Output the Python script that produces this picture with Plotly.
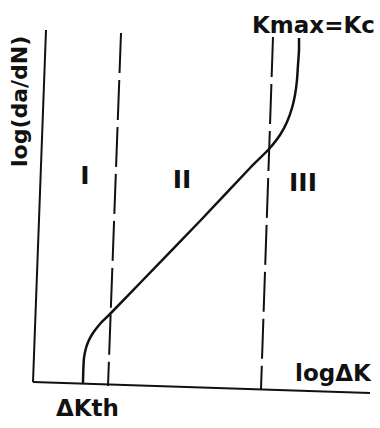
import plotly.graph_objects as go

# Schematic coordinates (x: log ΔK, y: log(da/dN)), in chart units
axis_x = [33, 370]
axis_x_y = [46, 35]
axis_y_x = [46, 33]
axis_y = [398, 46]

th_x = [121, 108]          # ΔKth dashed line
th_y = [395, 42]
kc_x = [273, 261]          # Kmax=Kc dashed line
kc_y = [391, 39]

curve_x = [83, 83.3, 84, 86, 89, 93, 100, 110, 142, 200, 250, 269, 280, 287, 292, 295, 297, 298, 299, 299]
curve_y = [45, 58, 70, 80, 88, 95, 104, 114, 147, 207, 260, 279, 293, 306, 320, 333, 348, 363, 378, 390]

region_labels = ["I", "II", "III"]
region_x = [85, 182, 303]
region_y = [250, 246, 243]

FONT = "DejaVu Sans"

fig = go.Figure()
line_style = dict(color="#111", width=2)
fig.add_trace(go.Scatter(x=axis_x, y=axis_x_y, mode="lines", line=line_style))
fig.add_trace(go.Scatter(x=axis_y_x, y=axis_y, mode="lines", line=line_style))
fig.add_trace(go.Scatter(x=th_x, y=th_y, mode="lines",
                         line=dict(color="#111", width=2, dash="40px,7px")))
fig.add_trace(go.Scatter(x=kc_x, y=kc_y, mode="lines",
                         line=dict(color="#111", width=2, dash="40px,7px")))
fig.add_trace(go.Scatter(x=curve_x, y=curve_y, mode="lines",
                         line=dict(color="#111", width=2.5, shape="spline", smoothing=0.6)))
fig.add_trace(go.Scatter(x=region_x, y=region_y, mode="text", text=region_labels,
                         textfont=dict(family=FONT, size=25, color="#111", weight="bold")))

def label(text, x, y, size, angle=0):
    fig.add_annotation(x=x, y=y, text="<b>%s</b>" % text, showarrow=False,
                       textangle=angle, xanchor="center", yanchor="middle",
                       font=dict(family=FONT, size=size, color="#111"))

label("Kmax=Kc", 313, 403, 23)
label("logΔK", 333, 55, 23)
label("ΔKth", 87, 20, 23)
label("log(da/dN)", 19, 326, 22, angle=-90)

fig.update_layout(
    width=380, height=428,
    margin=dict(l=0, r=0, t=0, b=0),
    paper_bgcolor="white", plot_bgcolor="white",
    showlegend=False,
    xaxis=dict(range=[0, 380], visible=False, fixedrange=True),
    yaxis=dict(range=[0, 428], visible=False, fixedrange=True),
)

fig.write_html("out.html", config={"displayModeBar": False},
               post_script="document.body.style.margin='0';document.body.style.overflow='hidden';")
